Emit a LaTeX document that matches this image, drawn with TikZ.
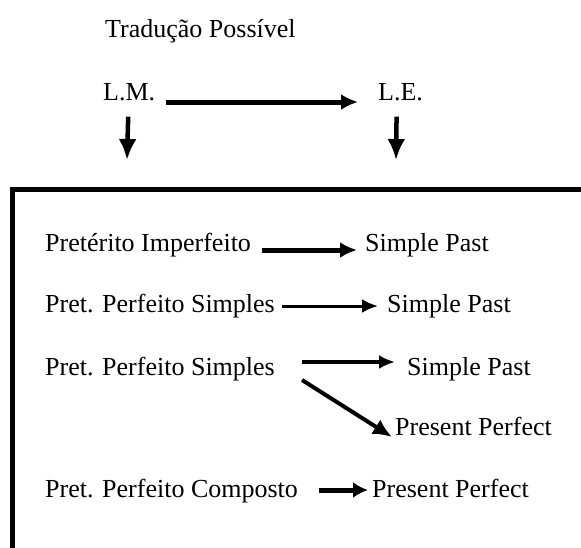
\documentclass[tikz,border=0pt]{standalone}
\usepackage{fontspec}
\setmainfont{Liberation Serif}
\usetikzlibrary{arrows.meta}
\begin{document}
\begin{tikzpicture}[x=1pt,y=-1pt,
  txt/.style={anchor=base west,inner sep=0pt,font=\fontsize{26}{30}\selectfont},
  thick arr/.style={line width=5pt,-{Latex[length=17pt,width=16pt]}},
  thin arr/.style={line width=3pt,-{Latex[length=16pt,width=14pt]}},
  down arr/.style={line width=4.5pt,-{Latex[length=21pt,width=18pt]}},
  frame/.style={line width=5pt}]
\useasboundingbox (0,0) rectangle (581,547);
\fill[white] (0,0) rectangle (581,547);
% texts
\node[txt] (title) at (105,37) {Tradução Possível};
\node[txt] (LM) at (103,100) {L.M.};
\node[txt] (LE) at (378,100) {L.E.};
\node[txt] (p1) at (45,251) {Pretérito Imperfeito};
\node[txt] (s1) at (365,251) {Simple Past};
\node[txt] (p2) at (45,312) {Pret. Perfeito Simples};
\node[txt] (s2) at (387,312) {Simple Past};
\node[txt] (p3) at (45,375) {Pret. Perfeito Simples};
\node[txt] (s3) at (407,375) {Simple Past};
\node[txt] (pp3) at (395,435) {Present Perfect};
\node[txt] (p5) at (45,497) {Pret. Perfeito Composto};
\node[txt] (s5) at (372,497) {Present Perfect};
% frame
\coordinate (fbl) at (12,560);
\coordinate (ftl) at (12,189);
\coordinate (ftr) at (600,189);
\draw[frame] (fbl) -- (ftl) -- (ftr);
% top connectors
\coordinate (d1) at (127,160);
\coordinate (d2) at (396,160);
\draw[thick arr] ([xshift=11pt,yshift=-2pt]LM.base east) -- ([xshift=-20pt,yshift=-2pt]LE.base west);
\draw[down arr] ([xshift=-1pt]LM.south) ++(0,16) -- (d1);
\draw[down arr] ([xshift=-4pt]LE.south) ++(0,16) -- (d2);
% rows
\draw[thick arr] ([xshift=11pt,yshift=1pt]p1.base east) -- ([xshift=-8pt,yshift=1pt]s1.base west);
\draw[thin arr] ([xshift=7pt,yshift=6pt]p2.base east) -- ([xshift=-9pt,yshift=6pt]s2.base west);
\draw[thin arr,line width=3.5pt] ([xshift=27pt,yshift=13pt]p3.base east) -- ([xshift=-12pt,yshift=13pt]s3.base west);
\draw[thin arr,line width=4pt,-{Latex[length=19pt,width=17pt]}] ([xshift=27pt,yshift=-5pt]p3.base east) -- ([xshift=-3pt,yshift=-2pt]pp3.base west);
\draw[thick arr,-{Latex[length=15pt,width=16pt]}] ([xshift=21pt,yshift=7pt]p5.base east) -- ([xshift=-4pt,yshift=7pt]s5.base west);
\end{tikzpicture}
\end{document}
